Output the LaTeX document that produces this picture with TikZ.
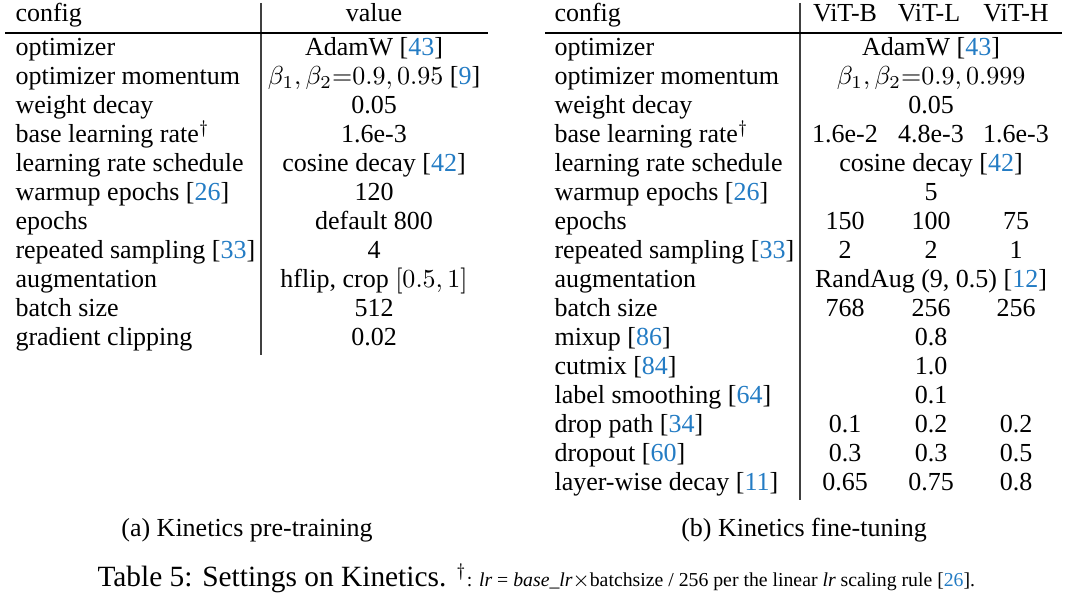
\documentclass[tikz,border=0pt]{standalone}
\usepackage[no-math]{fontspec}
\setmainfont{Liberation Serif}
\usepackage{amsmath}
\usepackage{xcolor}
\definecolor{citeblue}{RGB}{36,124,196}
\newcommand\CiteRef[1]{[\textcolor{citeblue}{#1}]}
\newcommand\RowY[1]{55.5+29*#1}
\tikzset{
    cell/.style={inner sep=0pt, anchor=base, font=\fontsize{10}{12}\selectfont},
    cellw/.style={cell, anchor=base west},
    toprulex/.style={line width=0.8pt},
    colrule/.style={line width=0.4pt, color=black!75},
}

\begin{document}
\begin{tikzpicture}[x=0.3846pt,y=-0.3846pt]
    \useasboundingbox (0,0) rectangle (1080,596);
    % (a) pre-training
    \draw[colrule] (261,3) -- (261,355);
    \draw[toprulex] (5,33) -- (488,33);
    \node[cellw] (lhead) at (15,22) {config};
    \node[cell] (lvalhead) at (374,22) {value};
    \foreach \name/\val [count=\i from 0] in {
        optimizer/{AdamW \CiteRef{43}},
        optimizer momentum/{$\beta_1,\beta_2{=}0.9,0.95$ \CiteRef{9}},
        weight decay/0.05,
        base learning rate$^\dagger$/1.6e-3,
        learning rate schedule/{cosine decay \CiteRef{42}},
        warmup epochs \CiteRef{26}/120,
        epochs/default 800,
        repeated sampling \CiteRef{33}/4,
        augmentation/{hflip, crop $[0.5,1]$},
        batch size/512,
        gradient clipping/0.02}
    {
        \node[cellw] (lcfg-\i) at (15,\RowY{\i}) {\name};
        \node[cell] (lval-\i) at (374,\RowY{\i}) {\val};
    }
    \node[cell] (capa) at (247,536) {(a) Kinetics pre-training};
    % (b) fine-tuning
    \draw[colrule] (800,3) -- (800,500);
    \draw[toprulex] (545,33) -- (1062,33);
    \node[cellw] (rhead) at (554,22) {config};
    \node[cell] (rhead-b) at (845,22) {ViT-B};
    \node[cell] (rhead-l) at (929,22) {ViT-L};
    \node[cell] (rhead-h) at (1016,22) {ViT-H};
    \foreach \name [count=\i from 0] in {
        optimizer, optimizer momentum, weight decay, base learning rate$^\dagger$,
        learning rate schedule, warmup epochs \CiteRef{26}, epochs,
        repeated sampling \CiteRef{33}, augmentation, batch size,
        mixup \CiteRef{86}, cutmix \CiteRef{84}, label smoothing \CiteRef{64},
        drop path \CiteRef{34}, dropout \CiteRef{60}, layer-wise decay \CiteRef{11}}
        \node[cellw] (rcfg-\i) at (554,\RowY{\i}) {\name};
    % values shared by all three models
    \foreach \i/\val in {
        0/{AdamW \CiteRef{43}},
        1/{$\beta_1,\beta_2{=}0.9,0.999$},
        2/0.05,
        4/{cosine decay \CiteRef{42}},
        5/5,
        8/{RandAug (9, 0.5) \CiteRef{12}},
        10/0.8, 11/1.0, 12/0.1}
        \node[cell] (rall-\i) at (931,\RowY{\i}) {\val};
    % per-model values
    \foreach \i/\vb/\vl/\vh in {
        3/1.6e-2/4.8e-3/1.6e-3,
        6/150/100/75,
        7/2/2/1,
        9/768/256/256,
        13/0.1/0.2/0.2,
        14/0.3/0.3/0.5,
        15/0.65/0.75/0.8}
    {
        \node[cell] (rb-\i) at (845,\RowY{\i}) {\vb};
        \node[cell] (rl-\i) at (931,\RowY{\i}) {\vl};
        \node[cell] (rh-\i) at (1016,\RowY{\i}) {\vh};
    }
    \node[cell] (capb) at (804,536) {(b) Kinetics fine-tuning};
    % table caption
    \node[cellw, font=\fontsize{11.3}{13}\selectfont] (captab) at (97,586) {Table 5: Settings on Kinetics. {\fontsize{9.5}{11}\selectfont$^\dagger$}{\fontsize{7.6}{9}\selectfont: \textit{lr} = \textit{base\_lr}$\times$batchsize / 256 per the linear \textit{lr} scaling rule \CiteRef{26}.}};
\end{tikzpicture}
\end{document}
